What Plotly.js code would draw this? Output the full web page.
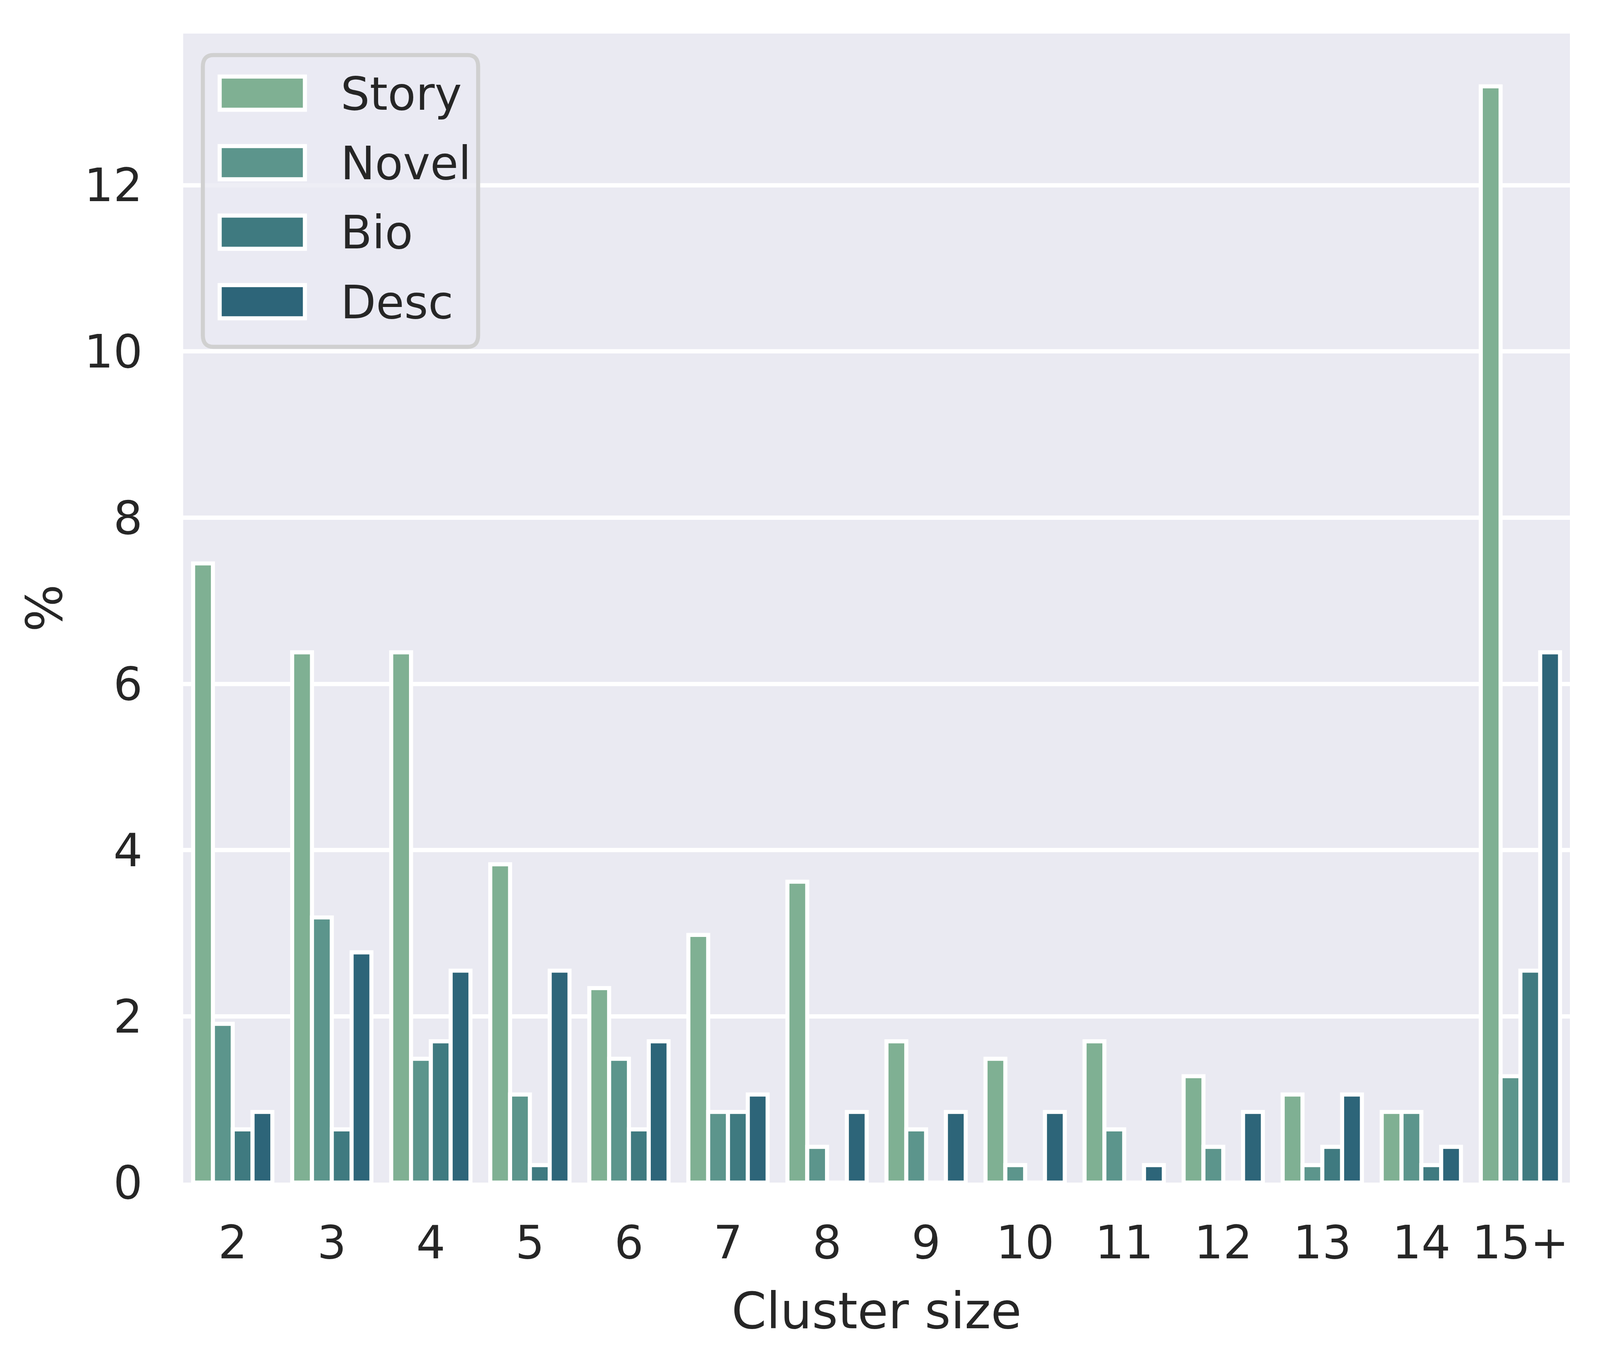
<!DOCTYPE html>
<html>
<head>
<meta charset="utf-8">
<script src="https://cdn.plot.ly/plotly-3.0.1.min.js"></script>
<style>
  html, body { margin: 0; padding: 0; background: #ffffff; overflow: hidden; }
</style>
</head>
<body>
<div id="chart"></div>
<script>
// cluster sizes on the x axis
var clusterSizes = ['2', '3', '4', '5', '6', '7', '8', '9', '10', '11', '12', '13', '14', '15+'];

// percent of clusters per genre
var story = [7.45, 6.38, 6.38, 3.83, 2.34, 2.98, 3.62, 1.70, 1.49, 1.70, 1.28, 1.06, 0.85, 13.19];
var novel = [1.91, 3.19, 1.49, 1.06, 1.49, 0.85, 0.43, 0.64, 0.21, 0.64, 0.43, 0.21, 0.85, 1.28];
var bio   = [0.64, 0.64, 1.70, 0.21, 0.64, 0.85, 0, 0, 0, 0, 0, 0.43, 0.21, 2.55];
var desc  = [0.85, 2.77, 2.55, 2.55, 1.70, 1.06, 0.85, 0.85, 0.85, 0.21, 0.85, 1.06, 0.43, 6.38];

var seriesNames = ['Story', 'Novel', 'Bio', 'Desc'];
var seriesValues = [story, novel, bio, desc];
var seriesColors = ['#7fb093', '#5c958c', '#3f7a80', '#2d6579'];

var yTicks = [0, 2, 4, 6, 8, 10, 12];

// layout is designed on a 4563 x 3513 canvas and stretched to fill the window
var W0 = 4563, H0 = 3513;
var W = window.innerWidth, H = window.innerHeight;
var sx = W / W0, sy = H / H0;
var sf = Math.sqrt(sx * sy);
var L = 523, R = 4477, T = 86, B = 3028;
var FONT = 'DejaVu Sans, sans-serif';
var INK = '#262626';
var EDGE = 11 * sf;

function px(x) { return (x - L) / (R - L); }
function py(y) { return (B - y) / (B - T); }

var traces = seriesNames.map(function (name, i) {
    return {
        type: 'bar',
        name: name,
        x: clusterSizes,
        y: seriesValues[i],
        marker: {
            color: seriesColors[i],
            line: { color: '#ffffff', width: EDGE }
        },
        showlegend: false,
        hoverinfo: 'skip'
    };
});

// legend drawn by hand so the swatches can be as large as the original ones
function roundRect(x0, y0, x1, y1, r) {
    var a = [px(x0), px(x0 + r), px(x1 - r), px(x1)];
    var b = [py(y0), py(y0 + r), py(y1 - r), py(y1)];
    return 'M' + a[1] + ',' + b[0] + ' L' + a[2] + ',' + b[0] +
        ' Q' + a[3] + ',' + b[0] + ' ' + a[3] + ',' + b[1] +
        ' L' + a[3] + ',' + b[2] +
        ' Q' + a[3] + ',' + b[3] + ' ' + a[2] + ',' + b[3] +
        ' L' + a[1] + ',' + b[3] +
        ' Q' + a[0] + ',' + b[3] + ' ' + a[0] + ',' + b[2] +
        ' L' + a[0] + ',' + b[1] +
        ' Q' + a[0] + ',' + b[0] + ' ' + a[1] + ',' + b[0] + ' Z';
}

var shapes = [{
    type: 'path',
    xref: 'paper', yref: 'paper',
    path: roundRect(579, 141, 1364, 888, 30),
    fillcolor: 'rgba(234,234,242,0.8)',
    line: { color: '#d0d0d0', width: EDGE }
}];
var annotations = [];

seriesNames.forEach(function (name, i) {
    var top = 196 + i * 178;
    shapes.push({
        type: 'rect',
        xref: 'paper', yref: 'paper',
        x0: px(627), x1: px(870),
        y0: py(top), y1: py(top + 85),
        fillcolor: seriesColors[i],
        line: { color: '#ffffff', width: EDGE }
    });
    annotations.push({
        xref: 'paper', yref: 'paper',
        x: px(970), y: py(top + 44),
        xanchor: 'left', yanchor: 'middle',
        text: name,
        showarrow: false,
        font: { family: FONT, size: 124 * sf, color: INK }
    });
});

var layout = {
    width: W,
    height: H,
    paper_bgcolor: '#ffffff',
    plot_bgcolor: '#eaeaf2',
    margin: { l: L * sx, r: (W0 - R) * sx, t: T * sy, b: (H0 - B) * sy, pad: 0 },
    barmode: 'group',
    bargap: 0.2,
    bargroupgap: 0,
    showlegend: false,
    hovermode: false,
    font: { family: FONT, color: INK },
    xaxis: {
        type: 'category',
        range: [-0.5, 13.5],
        showgrid: false,
        zeroline: false,
        showline: false,
        ticks: '',
        ticklabelstandoff: Math.round(76 * sy),
        tickfont: { family: FONT, size: 124 * sf, color: INK },
        title: {
            text: 'Cluster size',
            font: { family: FONT, size: 135 * sf, color: INK },
            standoff: 61 * sy
        },
        automargin: false
    },
    yaxis: {
        range: [0, 13.825],
        tickmode: 'array',
        tickvals: yTicks,
        ticktext: yTicks.map(String),
        showgrid: true,
        gridcolor: '#ffffff',
        gridwidth: 11 * sy,
        zeroline: false,
        showline: false,
        ticks: '',
        ticklabelstandoff: Math.round(115 * sx),
        tickfont: { family: FONT, size: 124 * sf, color: INK },
        title: {
            text: '%',
            font: { family: FONT, size: 135 * sf, color: INK },
            standoff: 15 * sx
        },
        automargin: false
    },
    shapes: shapes,
    annotations: annotations
};

Plotly.newPlot('chart', traces, layout, { displayModeBar: false, staticPlot: true });
</script>
</body>
</html>
